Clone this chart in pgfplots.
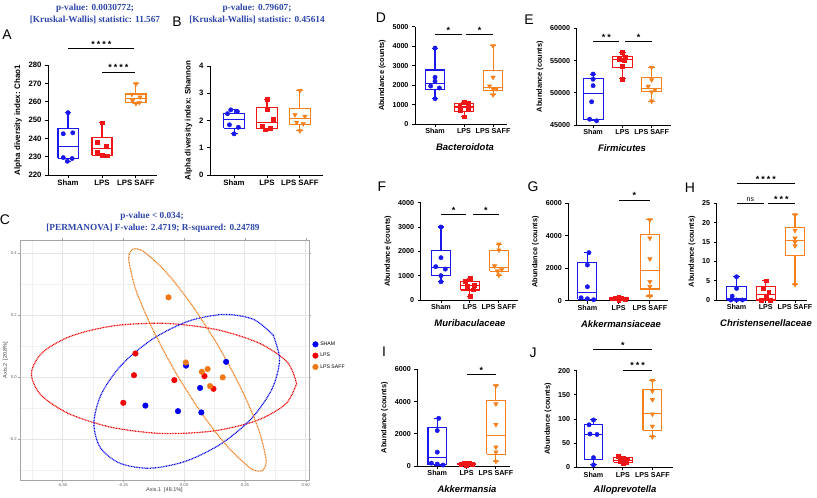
\documentclass[border=0pt]{standalone}
\usepackage{fontspec}
\setmainfont{Liberation Sans}
\newfontfamily\tnr{Liberation Serif}
\usepackage{pgfplots}
\pgfplotsset{compat=1.18}
\definecolor{sham}{RGB}{25,25,235}
\definecolor{lps}{RGB}{238,22,22}
\definecolor{saff}{RGB}{245,128,28}
\definecolor{ttl}{RGB}{45,70,170}
\definecolor{cb}{RGB}{0,0,240}
\definecolor{cr}{RGB}{240,0,0}
\definecolor{co}{RGB}{240,120,20}
\pgfplotsset{
  gp/.style={scale only axis, anchor=north west, clip=false,
    axis x line*=bottom, axis y line*=left,
    axis line style={line width=0.9bp,-},
    tick align=outside, major tick length=3bp,
    every tick/.style={black,line width=0.9bp},
    xtick={1,2,3}, xticklabels={Sham,LPS,LPS SAFF},
    scaled y ticks=false,
    tick label style={font=\fontsize{7.2}{8}\selectfont\bfseries},
    ylabel style={font=\fontsize{7.4}{8}\selectfont\bfseries},
    xticklabel style={inner sep=1.5bp}, unbounded coords=jump},
  big/.style={tick label style={font=\fontsize{7.8}{8}\selectfont\bfseries},
    ylabel style={font=\fontsize{8}{9}\selectfont\bfseries}},
  ps/.style={only marks, mark=*, mark size=2.2bp, color=sham},
  pl/.style={only marks, mark=square*, mark size=1.9bp, color=lps},
  po/.style={only marks, mark=triangle*, mark size=2.6bp, color=saff, mark options={rotate=180}},
}
% box: colour, position, half box width, half cap width, lower whisker, lower quartile, median, upper quartile, upper whisker
\newcommand{\mbx}[9]{%
 \pgfmathsetmacro\mxl{#2-#3}\pgfmathsetmacro\mxr{#2+#3}\pgfmathsetmacro\mcl{#2-#4}\pgfmathsetmacro\mcr{#2+#4}%
 \addplot[#1, line width=1.1bp, line join=miter] coordinates {(\mxl,#6) (\mxr,#6) (\mxr,#8) (\mxl,#8) (\mxl,#6) (nan,nan) (\mxl,#7) (\mxr,#7) (nan,nan) (#2,#8) (#2,#9) (nan,nan) (\mcl,#9) (\mcr,#9) (nan,nan) (#2,#6) (#2,#5) (nan,nan) (\mcl,#5) (\mcr,#5)};}
\newcommand{\sig}[5]{\draw[line width=0.9bp] (axis cs:#1,#3) -- (axis cs:#2,#3);
  \node[anchor=base, font=\fontsize{9}{9}\selectfont\bfseries, inner sep=0pt, yshift=1bp] at (axis cs:#4,#3) {#5};}
\newcommand{\stA}{*}
\newcommand{\stB}{*\hspace{2bp}*}
\newcommand{\stC}{*\hspace{2bp}*\hspace{2bp}*}
\newcommand{\stD}{*\hspace{2bp}*\hspace{2bp}*\hspace{2bp}*}
\begin{document}
\begin{tikzpicture}
\path[use as bounding box] (0,0) rectangle (817bp,-498bp);
% ---------- titles and letters
\begin{scope}[font=\tnr\bfseries\fontsize{9.3}{10}\selectfont, text=ttl]
\node at (95bp,-8bp) {p-value: 0.0030772;};
\node at (95bp,-20bp) {[Kruskal-Wallis] statistic: 11.567};
\node at (257bp,-8bp) {p-value: 0.79607;};
\node at (257bp,-20bp) {[Kruskal-Wallis] statistic: 0.45614};
\node at (152bp,-216.5bp) {p-value < 0.034;};
\node at (153bp,-228.5bp) {[PERMANOVA] F-value: 2.4719; R-squared: 0.24789};
\end{scope}
\begin{scope}[font=\fontsize{14}{14}\selectfont]
\node at (7bp,-35bp) {A};
\node at (177bp,-22bp) {B};
\node at (5bp,-220bp) {C};
\node at (381bp,-18bp) {D};
\node at (529bp,-20bp) {E};
\node at (382bp,-187bp) {F};
\node at (533bp,-187bp) {G};
\node at (690bp,-188bp) {H};
\node at (384bp,-352bp) {I};
\node at (533bp,-353bp) {J};
\end{scope}
\begin{scope}[font=\fontsize{9.5}{10}\selectfont\bfseries\itshape]
\node at (465bp,-147bp) {Bacteroidota};
\node at (622bp,-148bp) {Firmicutes};
\node at (470bp,-323bp) {Muribaculaceae};
\node at (621bp,-324bp) {Akkermansiaceae};
\node at (766bp,-323bp) {Christensenellaceae};
\node at (467bp,-489bp) {Akkermansia};
\node at (625bp,-490bp) {Alloprevotella};
\end{scope}
% ---------- A
\begin{axis}[gp, big, at={(48bp,-65bp)}, width=109bp, height=110bp, xmin=0.41, xmax=3.62, ymin=220, ymax=280,
  ytick={220,230,...,280}, yticklabels={220,230,240,250,260,270,280},
  ylabel={Alpha diversity index: Chao1}]
\mbx{sham}{1}{0.295}{0.1}{227.5}{229}{235.75}{245.5}{254}
\mbx{lps}{2}{0.295}{0.1}{230.5}{230.8}{234.3}{240.5}{248.5}
\mbx{saff}{3}{0.295}{0.1}{259}{259.5}{261.5}{264.2}{269.7}
\addplot[ps] coordinates {(1,254) (0.86,242.5) (1.14,243) (0.86,229.5) (0.98,227.5) (1.12,229)};
\addplot[pl] coordinates {(2,248.5) (1.85,238) (2.12,236) (1.85,232.5) (2.0,231) (2.15,230.5)};
\addplot[po] coordinates {(3,269.7) (2.88,264) (3.12,262.5) (2.9,260.5) (3.1,259.5) (3.0,259)};
\sig{1}{2.95}{289.2}{1.98}{\stD}
\sig{2}{2.97}{276.2}{2.48}{\stD}
\end{axis}
% ---------- B
\begin{axis}[gp, big, at={(210bp,-66bp)}, width=113bp, height=109bp, xmin=0.27, xmax=3.70, ymin=0, ymax=4,
  ytick={0,1,2,3,4}, yticklabels={0,1,2,3,4},
  ylabel={Alpha diversity index: Shannon}]
\mbx{sham}{1}{0.32}{0.105}{1.51}{1.72}{2.04}{2.27}{2.39}
\mbx{lps}{2}{0.32}{0.105}{1.66}{1.70}{1.92}{2.49}{2.78}
\mbx{saff}{3}{0.32}{0.105}{1.62}{1.85}{2.06}{2.45}{3.1}
\addplot[ps] coordinates {(0.9,2.39) (1.1,2.33) (0.8,2.25) (0.86,1.84) (1.13,1.75) (1.0,1.51)};
\addplot[pl] coordinates {(2,2.78) (2.0,2.40) (2.2,2.06) (1.85,1.78) (2.1,1.72) (1.95,1.66)};
\addplot[po] coordinates {(3,3.1) (2.85,2.21) (3.15,2.15) (2.9,1.93) (3.1,1.88) (3.0,1.62)};
\end{axis}
% ---------- C
\begin{axis}[at={(20bp,-240bp)}, anchor=north west, scale only axis, width=289bp, height=240bp,
  xmin=-0.675, xmax=0.514, ymin=-0.332, ymax=0.442,
  xtick={-0.5,-0.25,0,0.25,0.5}, xticklabels={-0.50,-0.25,0.00,0.25,0.50},
  ytick={-0.2,0,0.2,0.4}, yticklabels={-0.2,0.0,0.2,0.4},
  minor xtick={-0.625,-0.375,-0.125,0.125,0.375}, minor ytick={-0.3,-0.1,0.1,0.3},
  grid=both, major grid style={gray!20, line width=0.7bp}, minor grid style={gray!11, line width=0.6bp},
  axis line style={gray!70, line width=0.7bp}, tick style={gray!70}, tick align=outside,
  major tick length=2bp, minor tick length=0pt,
  tick label style={font=\fontsize{4.2}{5}\selectfont, text=gray!75!black},
  xticklabel style={inner sep=1bp}, yticklabel style={inner sep=1bp},
  xlabel={Axis.1\ \ [48.1\%]}, ylabel={Axis.2\ \ [20.8\%]},
  label style={font=\fontsize{5.5}{6}\selectfont, text=black!75},
  xlabel style={yshift=3bp}, ylabel style={yshift=-3bp},
  clip=false,
  legend style={at={(1.012,0.585)}, anchor=north west, draw=none, fill=none,
    font=\fontsize{5.2}{6}\selectfont, row sep=2.2bp, inner sep=0pt},
  legend cell align=left]
\addplot[cr, smooth, line width=1.2bp, dash pattern=on 0.9bp off 0.7bp, forget plot] coordinates {
(0.463,-0.021) (0.418,-0.087) (0.297,-0.141) (0.119,-0.174) (-0.091,-0.182) (-0.299,-0.162) (-0.474,-0.118) (-0.590,-0.057) (-0.628,0.012) (-0.583,0.079) (-0.462,0.133) (-0.283,0.166) (-0.074,0.173) (0.134,0.153) (0.310,0.109) (0.425,0.048) (0.463,-0.021)};
\addplot[cb, smooth, line width=1.2bp, dash pattern=on 0.9bp off 0.7bp, forget plot] coordinates {
(0.367,0.135) (0.393,0.056) (0.362,-0.038) (0.277,-0.134) (0.151,-0.216) (0.005,-0.272) (-0.141,-0.294) (-0.264,-0.278) (-0.345,-0.227) (-0.371,-0.148) (-0.340,-0.054) (-0.255,0.041) (-0.129,0.123) (0.017,0.180) (0.163,0.202) (0.286,0.186) (0.367,0.135)};
\addplot[co, smooth, line width=1.2bp, dash pattern=on 0.9bp off 0.7bp, forget plot] coordinates {
(0.322,-0.302) (0.300,-0.303) (0.268,-0.291) (0.181,-0.226) (0.075,-0.120) (-0.034,0.014) (-0.129,0.154) (-0.197,0.278) (-0.226,0.369) (-0.225,0.397) (-0.212,0.412) (-0.190,0.413) (-0.158,0.400) (-0.071,0.336) (0.035,0.229) (0.144,0.096) (0.239,-0.044) (0.307,-0.169) (0.336,-0.259) (0.335,-0.287) (0.322,-0.302)};
\addplot[only marks, mark=*, mark size=2.8bp, cb] coordinates {(0.008,0.037) (0.173,0.049) (0.066,-0.035) (-0.159,-0.092) (-0.025,-0.110) (0.071,-0.114)};
\addlegendentry{SHAM}
\addplot[only marks, mark=*, mark size=2.8bp, cr] coordinates {(-0.200,0.076) (-0.206,0.006) (-0.040,-0.010) (0.084,0.003) (0.121,-0.038) (-0.250,-0.083)};
\addlegendentry{LPS}
\addplot[only marks, mark=*, mark size=2.8bp, co] coordinates {(-0.064,0.257) (0.007,0.047) (0.073,0.017) (0.097,0.026) (0.159,-0.001) (0.107,-0.029)};
\addlegendentry{LPS SAFF}
\end{axis}
% ---------- D
\begin{axis}[gp, at={(415bp,-26.7bp)}, width=92bp, height=97.3bp, xmin=0.31, xmax=3.48, ymin=0, ymax=5000,
  ytick={0,1000,2000,3000,4000,5000}, yticklabels={0,1000,2000,3000,4000,5000},
  ylabel={Abundance (counts)}]
\mbx{sham}{1}{0.335}{0.115}{1300}{1750}{2075}{2775}{3900}
\mbx{lps}{2}{0.335}{0.115}{380}{650}{875}{1060}{1100}
\mbx{saff}{3}{0.335}{0.115}{1500}{1720}{1885}{2740}{4020}
\addplot[ps] coordinates {(1,3900) (1.0,2400) (1.0,2200) (0.85,1950) (1.15,1850) (1,1300)};
\addplot[pl] coordinates {(2,1100) (2.15,1050) (1.85,950) (2.15,800) (1.88,700) (2,380)};
\addplot[po] coordinates {(3,4020) (3,2400) (2.88,1950) (3.12,1820) (3.0,1800) (3,1500)};
\sig{1}{1.92}{4610}{1.46}{\stA}
\sig{2.08}{3}{4610}{2.54}{\stA}
\end{axis}
% ---------- E
\begin{axis}[gp, at={(576.7bp,-28.3bp)}, width=94bp, height=96.7bp, xmin=0.44, xmax=3.65, ymin=45000, ymax=60000,
  ytick={45000,50000,55000,60000}, yticklabels={45000,50000,55000,60000},
  ylabel={Abundance (counts)}]
\mbx{sham}{1}{0.34}{0.115}{45650}{45850}{49850}{52200}{52900}
\mbx{lps}{2}{0.34}{0.115}{52150}{53850}{55100}{55600}{56250}
\mbx{saff}{3}{0.34}{0.115}{48700}{50150}{50700}{52340}{53950}
\addplot[ps] coordinates {(1,52900) (1,52100) (1,51100) (0.95,48600) (0.88,45900) (1.12,45650)};
\addplot[pl] coordinates {(2,56250) (2.1,55500) (1.9,55200) (2.05,55000) (2.0,54100) (2,52150)};
\addplot[po] coordinates {(3,53950) (3,52000) (2.88,51000) (3.12,50500) (3.0,50150) (3,48700)};
\sig{1}{1.9}{57920}{1.45}{\stB}
\sig{2.1}{3}{57920}{2.55}{\stA}
\end{axis}
% ---------- F
\begin{axis}[gp, at={(420.7bp,-202.7bp)}, width=97.3bp, height=97.3bp, xmin=0.30, xmax=3.66, ymin=0, ymax=4000,
  ytick={0,1000,2000,3000,4000}, yticklabels={0,1000,2000,3000,4000},
  ylabel={Abundance (counts)}]
\mbx{sham}{1}{0.32}{0.115}{750}{1000}{1340}{2030}{3000}
\mbx{lps}{2}{0.32}{0.115}{160}{410}{590}{760}{880}
\mbx{saff}{3}{0.32}{0.115}{1020}{1190}{1330}{2030}{2300}
\addplot[ps] coordinates {(1,3000) (1,1740) (0.82,1370) (1.15,1270) (1.0,1000) (1,750)};
\addplot[pl] coordinates {(2,880) (1.85,760) (2.15,620) (1.9,560) (2.1,420) (2,160)};
\addplot[po] coordinates {(3,2300) (3,2050) (2.85,1400) (3.1,1250) (2.95,1200) (3,1020)};
\sig{1}{1.88}{3523}{1.44}{\stA}
\sig{2.1}{3}{3523}{2.55}{\stA}
\end{axis}
% ---------- G
\begin{axis}[gp, at={(568.3bp,-203.3bp)}, width=99.7bp, height=97.4bp, xmin=0.39, xmax=3.58, ymin=0, ymax=6000,
  ytick={0,2000,4000,6000}, yticklabels={0,2000,4000,6000},
  ylabel={Abundance (counts)}]
\mbx{sham}{1}{0.305}{0.11}{60}{90}{510}{2370}{2960}
\mbx{lps}{2}{0.305}{0.11}{50}{70}{125}{180}{210}
\mbx{saff}{3}{0.305}{0.11}{290}{720}{1870}{4080}{4980}
\addplot[ps] coordinates {(1.05,2960) (1.0,2200) (1.0,860) (0.8,180) (1.0,120) (1.2,60)};
\addplot[pl] coordinates {(1.8,120) (1.9,170) (2.0,210) (2.1,150) (2.2,100) (2.0,50)};
\addplot[po] coordinates {(3,4980) (3,3850) (3,2575) (3,1175) (3,865) (3,290)};
\sig{2}{3}{6204}{2.5}{\stA}
\end{axis}
% ---------- H
\begin{axis}[gp, at={(716.7bp,-203.3bp)}, width=90bp, height=96.7bp, xmin=0.32, xmax=3.40, ymin=0, ymax=25,
  ytick={0,5,10,15,20,25}, yticklabels={0,5,10,15,20,25},
  ylabel={Abundance (counts)}]
\mbx{sham}{1}{0.33}{0.115}{0}{0}{0.5}{3.6}{6}
\mbx{lps}{2}{0.33}{0.115}{0}{0}{1.5}{3.4}{5}
\mbx{saff}{3}{0.33}{0.115}{4}{11.5}{15.4}{18.8}{22.2}
\addplot[ps] coordinates {(1,6) (1,3) (0.85,1) (0.8,0) (1.0,0) (1.2,0)};
\addplot[pl] coordinates {(2,5) (1.9,3) (2.1,2) (2,1) (1.85,0) (2.15,0)};
\addplot[po] coordinates {(3,22) (3,18) (3,16) (3,15) (3,14) (3,4)};
\sig{1}{3}{30.2}{2}{\stD}
\draw[line width=0.9bp] (axis cs:1,25) -- (axis cs:1.94,25);
\node[anchor=base, font=\fontsize{7}{8}\selectfont, inner sep=0pt, yshift=2bp] at (axis cs:1.47,25) {ns};
\sig{2.06}{3}{25}{2.53}{\stC}
\end{axis}
% ---------- I
\begin{axis}[gp, at={(417.3bp,-369.3bp)}, width=92.7bp, height=96.7bp, xmin=0.32, xmax=3.48, ymin=0, ymax=6000,
  ytick={0,2000,4000,6000}, yticklabels={0,2000,4000,6000},
  ylabel={Abundance (counts)}]
\mbx{sham}{1}{0.315}{0.115}{60}{90}{510}{2370}{2960}
\mbx{lps}{2}{0.315}{0.115}{50}{70}{125}{180}{210}
\mbx{saff}{3}{0.315}{0.115}{290}{720}{1870}{4080}{4980}
\addplot[ps] coordinates {(1.05,2960) (1.0,2200) (1.0,860) (0.8,180) (1.0,120) (1.2,60)};
\addplot[pl] coordinates {(1.8,120) (1.9,170) (2.0,210) (2.1,150) (2.2,100) (2.0,50)};
\addplot[po] coordinates {(3,4980) (3,3850) (3,2575) (3,1175) (3,865) (3,290)};
\sig{2}{3}{5690}{2.5}{\stA}
\end{axis}
% ---------- J
\begin{axis}[gp, at={(576.7bp,-370.7bp)}, width=96.6bp, height=96.6bp, xmin=0.43, xmax=3.71, ymin=0, ymax=200,
  ytick={0,50,100,150,200}, yticklabels={0,50,100,150,200},
  ylabel={Abundance (counts)}]
\mbx{sham}{1}{0.32}{0.115}{5}{17}{67}{88}{99}
\mbx{lps}{2}{0.32}{0.115}{8}{10}{14}{20}{23}
\mbx{saff}{3}{0.32}{0.115}{63}{77}{112}{161}{180}
\addplot[ps] coordinates {(1,98) (0.85,88) (0.88,69) (1.12,68) (1.0,20) (1,5)};
\addplot[pl] coordinates {(1.85,23) (2,20) (2.15,18) (1.9,13) (2.1,10) (2,8)};
\addplot[po] coordinates {(3,180) (3,158) (3,140) (3,110) (3,85) (3,63)};
\sig{1}{3}{243.5}{2}{\stA}
\sig{2}{3}{201.5}{2.5}{\stC}
\end{axis}
\end{tikzpicture}
\end{document}
